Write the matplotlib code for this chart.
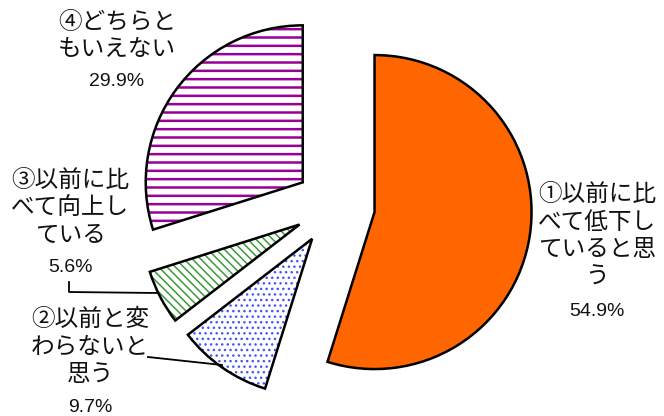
import matplotlib
matplotlib.use("Agg")
import matplotlib.pyplot as plt

plt.rcParams['hatch.linewidth'] = 1.3

# Survey answer shares (%), clockwise from 12 o'clock
labels = ["①以前に比\nべて低下し\nていると思\nう",
          "②以前と変\nわらないと\n思う",
          "③以前に比\nべて向上し\nている",
          "④どちらと\nもいえない"]
values = [54.9, 9.7, 5.6, 29.9]
pct_labels = [f"{v:.1f}%" for v in values]

fills = ["#FF6600", "white", "white", "white"]
hatch_colors = ["#FF6600", "#4455FF", "#3A9A3A", "#990099"]
hatches = [None, "...", "\\\\\\\\", "--"]
hatch_widths = [1.0, 1.0, 1.1, 1.8]

W, H = 664, 416
fig = plt.figure(figsize=(W / 100, H / 100), dpi=100)
ax = fig.add_axes([0, 0, 1, 1])


def Y(y):
    return H - y


center = (335, Y(206))
radius = 157
explode = [40] * len(values)

# hatched fills
wedges, _ = ax.pie(values, explode=explode, startangle=90, counterclock=False,
                   center=center, radius=radius, frame=True,
                   wedgeprops=dict(linewidth=0))
for w, fc, hc, ht, hw in zip(wedges, fills, hatch_colors, hatches, hatch_widths):
    w.set_facecolor(fc)
    w.set_edgecolor(hc)
    w.set_linewidth(0)
    if ht:
        w.set_hatch(ht)
        if hasattr(w, "set_hatch_linewidth"):
            w.set_hatch_linewidth(hw)

# black outlines on top
ax.pie(values, explode=explode, startangle=90, counterclock=False,
       center=center, radius=radius, frame=True,
       wedgeprops=dict(fill=False, edgecolor='black', linewidth=1.8))
ax.set_xlim(0, W)
ax.set_ylim(0, H)
ax.set_aspect('equal')
ax.axis('off')

jp = dict(family=['Noto Sans CJK JP', 'DejaVu Sans'], fontsize=17,
          color='#111111', ha='center', va='center', linespacing=1.25)
num = dict(family=['Liberation Sans Narrow', 'Liberation Sans', 'DejaVu Sans'],
           fontsize=14, color='#111111', ha='center', va='center')

# label blocks: (x, y of text centre, y of percentage)
label_pos = [(597, 236, 311), (90, 347, 407), (70, 208, 267), (117, 36, 82)]
for lab, pct, (x, yc, yp) in zip(labels, pct_labels, label_pos):
    ax.text(x, Y(yc), lab, **jp)
    ax.text(x, Y(yp), pct, **num)

# leader lines
ax.plot([69, 69, 157], [Y(282), Y(292), Y(293)], color='black', lw=1.3)
ax.plot([148, 222], [Y(357), Y(365)], color='black', lw=1.3)

fig.savefig("out.png", dpi=100)
